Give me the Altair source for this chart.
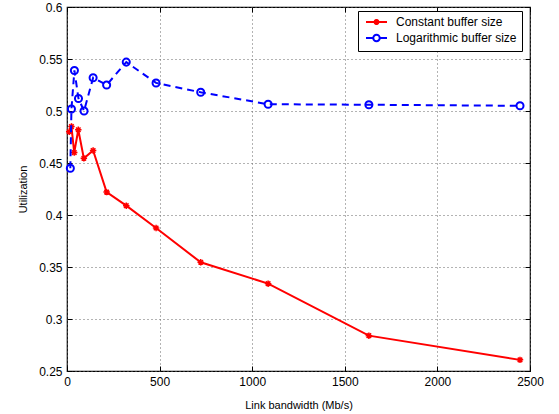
import altair as alt
import pandas as pd

# Data
bw_const = [12, 24, 39, 61, 91, 141, 214, 320, 481, 722, 1086, 1630, 2446]
util_const = [0.480, 0.485, 0.460, 0.482, 0.4545, 0.462, 0.422, 0.409, 0.3875, 0.3545, 0.334, 0.284, 0.2607]
bw_log = [18, 24, 40, 62, 92, 141, 214, 320, 481, 722, 1086, 1630, 2446]
util_log = [0.445, 0.502, 0.539, 0.512, 0.500, 0.532, 0.525, 0.547, 0.527, 0.518, 0.5065, 0.506, 0.505]

series_names = ["Constant buffer size", "Logarithmic buffer size"]
x_ticks = [0, 500, 1000, 1500, 2000, 2500]
y_ticks = [0.25, 0.3, 0.35, 0.4, 0.45, 0.5, 0.55, 0.6]

df = pd.concat([
    pd.DataFrame({"bw": bw_const, "util": util_const, "series": series_names[0]}),
    pd.DataFrame({"bw": bw_log, "util": util_log, "series": series_names[1]}),
], ignore_index=True)

FONT = "Liberation Sans"
xscale = alt.Scale(domain=[0, 2500], nice=False, zero=False)
yscale = alt.Scale(domain=[0.25, 0.6], nice=False, zero=False)

ASTER = "M-1,0L1,0M0,-1L0,1M-0.7,-0.7L0.7,0.7M-0.7,0.7L0.7,-0.7"
# legend symbols (unit = 5 px with symbolSize 100): line with marker in the middle
LEG_RED = ("M-0.6,0L3.6,0M0.9,0L2.1,0M1.5,-0.6L1.5,0.6"
           "M1.08,-0.42L1.92,0.42M1.08,0.42L1.92,-0.42")
LEG_BLUE = ("M-0.6,0L0.85,0M2.15,0L3.6,0"
            "M0.85,0A0.65,0.65 0 1,1 2.15,0A0.65,0.65 0 1,1 0.85,0")

base = alt.Chart(df)

def noax_x():
    return alt.X("bw:Q", scale=xscale, axis=None)

def noax_y():
    return alt.Y("util:Q", scale=yscale, axis=None)

# Main axes layer (labels, titles, grid)
main_axes = base.mark_point(opacity=0).encode(
    x=alt.X("bw:Q", scale=xscale, title="Link bandwidth (Mb/s)",
            axis=alt.Axis(orient="bottom", values=x_ticks, format="d", ticks=False, domain=False,
                          grid=True, gridDash=[1, 3], gridColor="#666666", gridWidth=1,
                          labelFlush=False, labelOverlap=False,
                          labelFont=FONT, labelFontSize=12, labelColor="black", labelPadding=5,
                          titleFont=FONT, titleFontSize=11, titleFontWeight="normal",
                          titleColor="black", titlePadding=12)),
    y=alt.Y("util:Q", scale=yscale, title="Utilization",
            axis=alt.Axis(orient="left", values=y_ticks, format=".2~f", ticks=False, domain=False,
                          grid=True, gridDash=[1, 3], gridColor="#666666", gridWidth=1,
                          labelFlush=False, labelOverlap=False,
                          labelFont=FONT, labelFontSize=12, labelColor="black", labelPadding=5,
                          titleFont=FONT, titleFontSize=11, titleFontWeight="normal",
                          titleColor="black", titlePadding=10)),
)

def tick_axis(orient, values):
    return alt.Axis(orient=orient, values=values, offset=-5, tickSize=5, tickColor="black",
                    tickWidth=1, labels=False, domain=False, grid=False)

ticks_a = base.mark_point(opacity=0).encode(
    x=alt.X("bw:Q", scale=xscale, title=None, axis=tick_axis("bottom", x_ticks)),
    y=alt.Y("util:Q", scale=yscale, title=None, axis=tick_axis("left", y_ticks)),
)
ticks_b = base.mark_point(opacity=0).encode(
    x=alt.X("bw:Q", scale=xscale, title=None, axis=tick_axis("top", x_ticks)),
    y=alt.Y("util:Q", scale=yscale, title=None, axis=tick_axis("right", y_ticks)),
)

red = base.transform_filter(alt.datum.series == series_names[0])
blue = base.transform_filter(alt.datum.series == series_names[1])

red_line = red.mark_line(color="#ff0000", strokeWidth=2).encode(x=noax_x(), y=noax_y())
red_pts = red.mark_point(shape=ASTER, size=42, filled=False, color="#ff0000",
                         strokeWidth=1.5, opacity=1).encode(x=noax_x(), y=noax_y())
blue_line = blue.mark_line(color="#0000ff", strokeWidth=2, strokeDash=[7, 5]).encode(x=noax_x(), y=noax_y())
blue_pts = blue.mark_point(shape="circle", size=50, filled=False, color="#0000ff",
                           strokeWidth=2, opacity=1).encode(x=noax_x(), y=noax_y())

leg = alt.Legend(title=None, orient="none", legendX=291, legendY=4,
                 fillColor="white", strokeColor="black", padding=5,
                 labelFont=FONT, labelFontSize=12, labelColor="black",
                 symbolSize=100, symbolStrokeWidth=2, labelOffset=21,
                 rowPadding=1)

legend_layer = base.transform_filter("false").mark_point(filled=False, strokeWidth=2, opacity=1).encode(
    x=noax_x(), y=noax_y(),
    color=alt.Color("series:N", scale=alt.Scale(domain=series_names, range=["#ff0000", "#0000ff"]),
                    legend=leg),
    shape=alt.Shape("series:N", scale=alt.Scale(domain=series_names, range=[LEG_RED, LEG_BLUE]),
                    legend=leg),
)

chart = alt.layer(
    main_axes, ticks_a, ticks_b, red_line, red_pts, blue_line, blue_pts, legend_layer
).resolve_axis(x="independent", y="independent").properties(
    width=463, height=364,
    autosize=alt.AutoSizeParams(type="none"),
    padding={"left": 67, "top": 7, "right": 29, "bottom": 43},
    background="white",
).configure_view(stroke="black", strokeWidth=1.2)

chart.save("out.html", embed_options={"renderer": "svg", "actions": False})
